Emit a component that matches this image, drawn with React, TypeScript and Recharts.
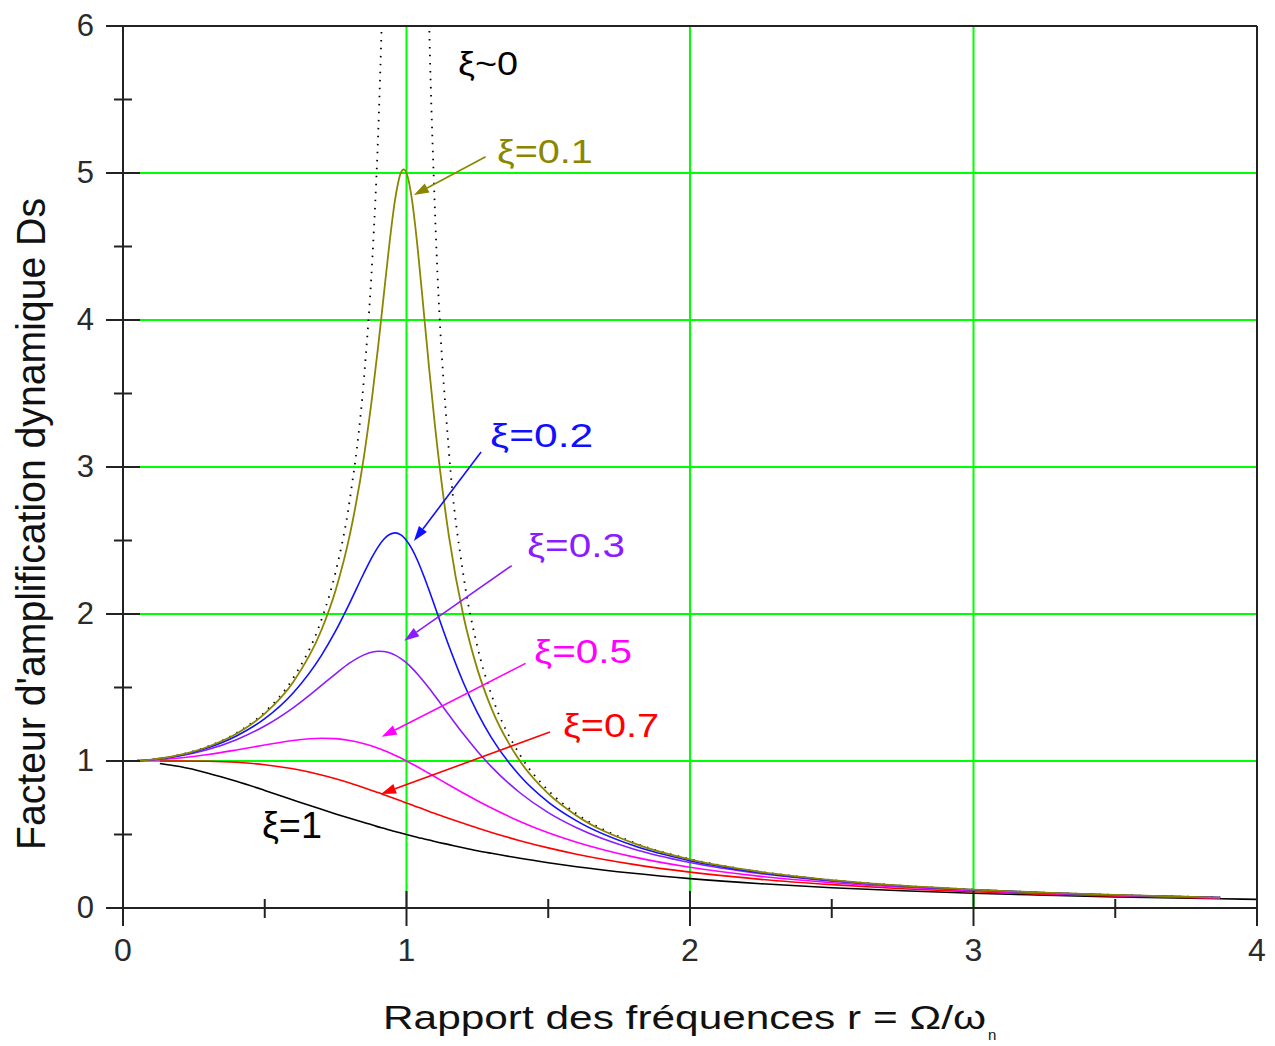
import React from 'react';
import { LineChart, Line, XAxis, YAxis, ReferenceLine, ReferenceDot } from 'recharts';

const FONT = '"Liberation Sans", Arial, Helvetica, sans-serif';

// frequency ratio r (x values)
const rValues = [0.05, 0.1, 0.13, 0.2, 0.3, 0.4, 0.5, 0.6, 0.7, 0.75, 0.8, 0.85, 0.88, 0.9, 0.92, 0.94, 0.96, 0.98, 0.99, 1.0, 1.02, 1.04, 1.06, 1.08, 1.1, 1.15, 1.2, 1.25, 1.3, 1.4, 1.5, 1.6, 1.8, 2.0, 2.25, 2.5, 2.75, 3.0, 3.25, 3.5, 3.87, 4.0];

// dynamic amplification factor for each damping ratio
const xi0 = [1.003, 1.010, 1.017, 1.042, 1.099, 1.190, 1.333, 1.563, 1.961, 2.286, 2.778, 3.604, 4.433, 5.263, 6.510, null, null, null, null, null, null, null, 8.090, 6.010, 4.762, 3.096, 2.273, 1.778, 1.449, 1.042, 0.800, 0.641, 0.446, 0.333, 0.246, 0.190, 0.152, 0.125, 0.105, 0.089, 0.072, null];
const xi01 = [1.003, 1.010, 1.017, 1.041, 1.097, 1.185, 1.322, 1.536, 1.891, 2.162, 2.538, 3.073, 3.495, 3.821, 4.172, 4.523, 4.822, 5.001, 5.025, 5.000, 4.809, 4.476, 4.075, 3.668, 3.288, 2.525, 1.995, 1.625, 1.356, 1.000, 0.778, 0.628, 0.441, 0.330, 0.245, 0.190, 0.152, 0.125, 0.104, 0.089, 0.071, null];
const xi02 = [1.002, 1.009, 1.016, 1.038, 1.090, 1.170, 1.288, 1.463, 1.719, 1.885, 2.076, 2.279, 2.392, 2.457, 2.508, 2.541, 2.552, 2.538, 2.522, 2.500, 2.439, 2.359, 2.264, 2.160, 2.051, 1.780, 1.536, 1.329, 1.157, 0.900, 0.721, 0.593, 0.425, 0.322, 0.240, 0.187, 0.150, 0.124, 0.104, 0.088, 0.071, null];
const xi03 = [1.002, 1.008, 1.014, 1.034, 1.078, 1.145, 1.238, 1.362, 1.514, 1.593, 1.667, 1.722, 1.742, 1.747, 1.745, 1.737, 1.720, 1.697, 1.683, 1.667, 1.630, 1.589, 1.543, 1.495, 1.444, 1.313, 1.185, 1.067, 0.960, 0.784, 0.649, 0.546, 0.402, 0.310, 0.234, 0.183, 0.148, 0.122, 0.103, 0.087, 0.071, null];
const xi05 = [1.001, 1.005, 1.008, 1.020, 1.044, 1.075, 1.109, 1.140, 1.155, 1.152, 1.140, 1.118, 1.101, 1.087, 1.072, 1.056, 1.038, 1.020, 1.010, 1.000, 0.980, 0.959, 0.937, 0.915, 0.893, 0.837, 0.782, 0.730, 0.680, 0.589, 0.512, 0.448, 0.348, 0.277, 0.215, 0.172, 0.141, 0.117, 0.099, 0.085, 0.069, null];
const xi07 = [null, null, 1.000, 1.000, 0.998, 0.991, 0.975, 0.947, 0.905, 0.879, 0.850, 0.818, 0.798, 0.785, 0.771, 0.757, 0.743, 0.729, 0.721, 0.714, 0.700, 0.686, 0.672, 0.657, 0.643, 0.609, 0.576, 0.544, 0.514, 0.458, 0.409, 0.366, 0.297, 0.244, 0.195, 0.159, 0.131, 0.111, 0.094, 0.082, 0.067, null];
const xi1 = [null, null, 0.983, 0.962, 0.917, 0.862, 0.800, 0.735, 0.671, 0.640, 0.610, 0.581, 0.564, 0.552, 0.542, 0.531, 0.520, 0.510, 0.505, 0.500, 0.490, 0.480, 0.471, 0.462, 0.452, 0.431, 0.410, 0.390, 0.372, 0.338, 0.308, 0.281, 0.236, 0.200, 0.165, 0.138, 0.117, 0.100, 0.087, 0.075, 0.063, 0.059];

const xTicks = [0, 0.5, 1, 1.5, 2, 2.5, 3, 3.5, 4];
const yTicks = [0, 0.5, 1, 1.5, 2, 2.5, 3, 3.5, 4, 4.5, 5, 5.5, 6];
const xGrid = [1, 2, 3];
const yGrid = [1, 2, 3, 4, 5];

const chartData = rValues.map((r, i) => ({
  r,
  xi0: xi0[i],
  xi01: xi01[i],
  xi02: xi02[i],
  xi03: xi03[i],
  xi05: xi05[i],
  xi07: xi07[i],
  xi1: xi1[i],
}));

const C_OLIVE = '#8a8600';
const C_BLUE = '#1010ff';
const C_PURPLE = '#8a1cff';
const C_MAGENTA = '#ff00ff';
const C_RED = '#ff0000';
const C_BLACK = '#000000';

// annotation labels (text, colour, anchor in data units, text width)
const labelTexts = ['ξ~0', 'ξ=0.1', 'ξ=0.2', 'ξ=0.3', 'ξ=0.5', 'ξ=0.7', 'ξ=1'];
const labelColors = [C_BLACK, C_OLIVE, C_BLUE, C_PURPLE, C_MAGENTA, C_RED, C_BLACK];
const labelAt = [
  { x: 1.182, y: 5.667, w: 60, fs: 33 },
  { x: 1.319, y: 5.068, w: 96, fs: 33 },
  { x: 1.295, y: 3.136, w: 103, fs: 33 },
  { x: 1.425, y: 2.388, w: 98, fs: 33 },
  { x: 1.450, y: 1.667, w: 98, fs: 33 },
  { x: 1.552, y: 1.163, w: 96, fs: 33 },
  { x: 0.490, y: 0.476, w: 60, fs: 36 },
];

const arrows = [
  { c: C_OLIVE, from: { x: 1.279, y: 5.111 }, to: { x: 1.026, y: 4.850 } },
  { c: C_BLUE, from: { x: 1.263, y: 3.102 }, to: { x: 1.026, y: 2.497 } },
  { c: C_PURPLE, from: { x: 1.371, y: 2.329 }, to: { x: 0.992, y: 1.818 } },
  { c: C_MAGENTA, from: { x: 1.420, y: 1.664 }, to: { x: 0.9125, y: 1.165 } },
  { c: C_RED, from: { x: 1.506, y: 1.197 }, to: { x: 0.910, y: 0.776 } },
];

const makeArrow = (color: string) => (p: any) => {
  const { x1, y1, x2, y2 } = p;
  const dx = x2 - x1;
  const dy = y2 - y1;
  const len = Math.hypot(dx, dy) || 1;
  const ux = dx / len;
  const uy = dy / len;
  const hl = 15;
  const hw = 5;
  const bx = x2 - ux * hl;
  const by = y2 - uy * hl;
  const px = -uy;
  const py = ux;
  return (
    <g>
      <line x1={x1} y1={y1} x2={bx} y2={by} stroke={color} strokeWidth={1.6} />
      <polygon
        points={`${x2},${y2} ${bx + px * hw},${by + py * hw} ${bx - px * hw},${by - py * hw}`}
        fill={color}
      />
    </g>
  );
};

const makeLabel = (text: string, color: string, w: number, fs: number) => (p: any) => (
  <text
    x={p.cx}
    y={p.cy}
    fontSize={fs}
    fontFamily={FONT}
    fill={color}
    textLength={w}
    lengthAdjust="spacingAndGlyphs"
  >
    {text}
  </text>
);

const XTick = (props: any) => {
  const { x, y, payload } = props;
  const v = payload.value;
  const major = Number.isInteger(v);
  return (
    <g>
      <line x1={x} x2={x} y1={y - (major ? 17 : 9)} y2={y + (major ? 18 : 10)} stroke="#222" strokeWidth={2} />
      {major && (
        <text x={x} y={y + 53} textAnchor="middle" fontSize={32} fontFamily={FONT} fill="#2a2a2a">
          {v}
        </text>
      )}
    </g>
  );
};

const YTick = (props: any) => {
  const { x, y, payload } = props;
  const v = payload.value;
  const major = Number.isInteger(v);
  return (
    <g>
      <line x1={x - (major ? 17 : 9)} x2={x + (major ? 17 : 9)} y1={y} y2={y} stroke="#222" strokeWidth={2} />
      {major && (
        <text x={x - 29} y={y + 10} textAnchor="end" fontSize={31} fontFamily={FONT} fill="#2a2a2a">
          {v}
        </text>
      )}
    </g>
  );
};

const XTitle = () => (
  <g>
    <text x={375} y={1021} fontSize={33} fontFamily={FONT} fill="#111" textLength={603} lengthAdjust="spacingAndGlyphs">
      Rapport des fréquences r = Ω/ω
    </text>
    <text x={980} y={1032} fontSize={15} fontFamily={FONT} fill="#111">
      n
    </text>
  </g>
);

const YTitle = () => (
  <text
    x={37}
    y={516}
    transform="rotate(-90, 37, 516)"
    textAnchor="middle"
    fontSize={40}
    fontFamily={FONT}
    fill="#111"
    textLength={652}
    lengthAdjust="spacingAndGlyphs"
  >
    Facteur d'amplification dynamique Ds
  </text>
);

export default function App() {
  return (
    <div style={{ width: 1267, height: 1038, background: '#fff' }}>
      <LineChart width={1267} height={1038} data={chartData} margin={{ top: 18, right: 18, bottom: 0, left: 0 }}>
        {xGrid.map((v) => (
          <ReferenceLine key={`gx${v}`} x={v} stroke="#00ff00" strokeWidth={2} />
        ))}
        {yGrid.map((v) => (
          <ReferenceLine key={`gy${v}`} y={v} stroke="#00ff00" strokeWidth={2} />
        ))}
        <ReferenceLine y={6} stroke="#222" strokeWidth={2} />
        <ReferenceLine x={4} stroke="#222" strokeWidth={2} />
        <XAxis
          dataKey="r"
          type="number"
          domain={[0, 4]}
          ticks={xTicks}
          interval={0}
          allowDataOverflow
          height={138}
          tickSize={0}
          tickMargin={0}
          tickLine={false}
          axisLine={{ stroke: '#222', strokeWidth: 2 }}
          tick={(p: any) => <XTick {...p} />}
          label={<XTitle />}
        />
        <YAxis
          type="number"
          domain={[0, 6]}
          ticks={yTicks}
          interval={0}
          allowDataOverflow
          width={115}
          tickSize={0}
          tickMargin={0}
          tickLine={false}
          axisLine={{ stroke: '#222', strokeWidth: 2 }}
          tick={(p: any) => <YTick {...p} />}
          label={<YTitle />}
        />
        <Line dataKey="xi0" type="monotone" stroke={C_BLACK} strokeWidth={1.8} strokeDasharray="1.5 6.5" dot={false} activeDot={false} isAnimationActive={false} />
        <Line dataKey="xi1" type="monotone" stroke={C_BLACK} strokeWidth={1.6} dot={false} activeDot={false} isAnimationActive={false} />
        <Line dataKey="xi07" type="monotone" stroke={C_RED} strokeWidth={1.6} dot={false} activeDot={false} isAnimationActive={false} />
        <Line dataKey="xi05" type="monotone" stroke={C_MAGENTA} strokeWidth={1.6} dot={false} activeDot={false} isAnimationActive={false} />
        <Line dataKey="xi03" type="monotone" stroke={C_PURPLE} strokeWidth={1.6} dot={false} activeDot={false} isAnimationActive={false} />
        <Line dataKey="xi02" type="monotone" stroke={C_BLUE} strokeWidth={1.6} dot={false} activeDot={false} isAnimationActive={false} />
        <Line dataKey="xi01" type="monotone" stroke={C_OLIVE} strokeWidth={1.8} dot={false} activeDot={false} isAnimationActive={false} />
        {arrows.map((a, i) => (
          <ReferenceLine key={`ar${i}`} segment={[a.from, a.to]} stroke={a.c} shape={makeArrow(a.c)} />
        ))}
        {labelTexts.map((t, i) => (
          <ReferenceDot
            key={`lb${i}`}
            x={labelAt[i].x}
            y={labelAt[i].y}
            r={1}
            shape={makeLabel(t, labelColors[i], labelAt[i].w, labelAt[i].fs)}
          />
        ))}
      </LineChart>
    </div>
  );
}
